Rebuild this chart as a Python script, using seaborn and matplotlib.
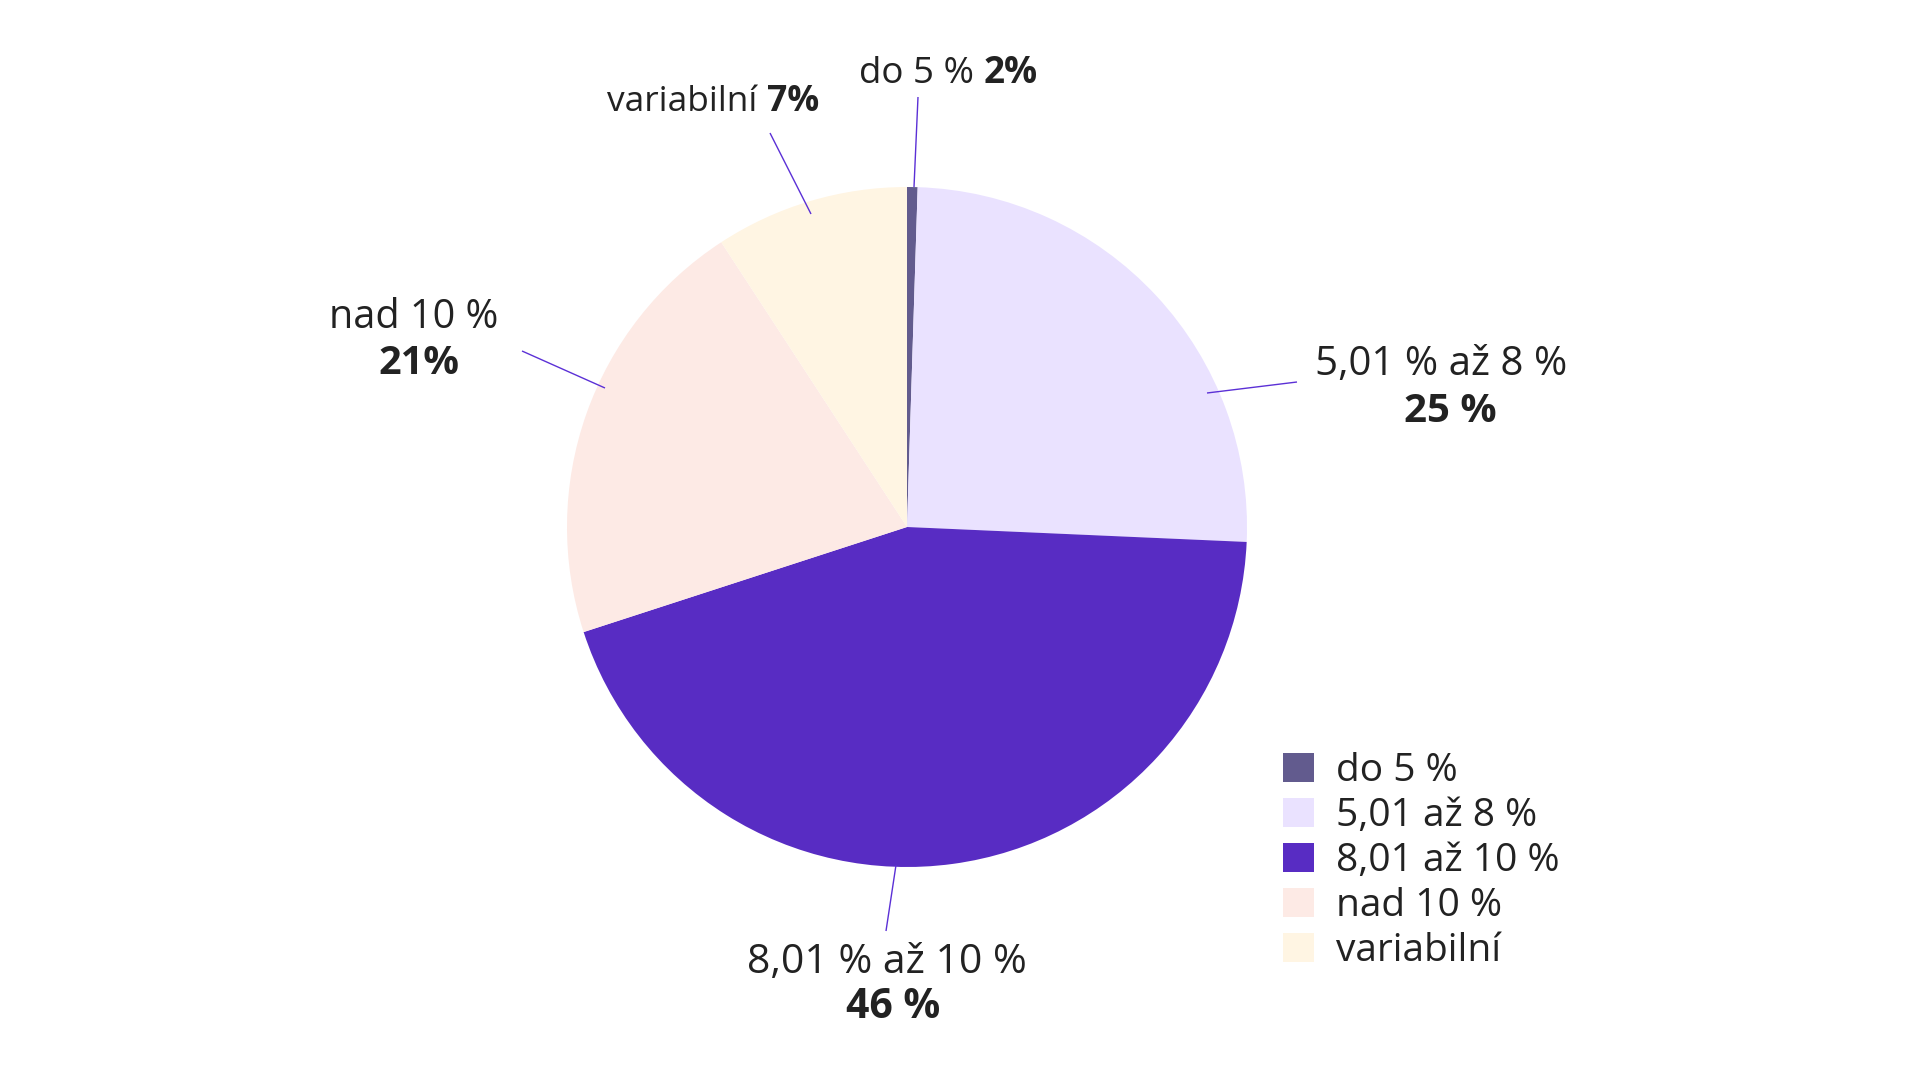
import matplotlib
matplotlib.use("Agg")
import matplotlib.pyplot as plt
import seaborn as sns

# ---- data ----
categories = ["do 5 %", "5,01 až 8 %", "8,01 až 10 %", "nad 10 %", "variabilní"]
shares = [0.5, 25.2, 44.3, 20.8, 9.2]          # drawn slice sizes
label_names = ["do 5 %", "5,01 % až 8 %", "8,01 % až 10 %", "nad 10 %", "variabilní"]
label_values = ["2%", "25 %", "46 %", "21%", "7%"]
colors = ["#625B8E", "#EAE2FF", "#582CC3", "#FDEAE5", "#FFF5E3"]

sns.set_theme(style="white")
plt.rcParams["font.family"] = ["Open Sans", "DejaVu Sans"]

W, H = 1920, 1080
TXT = "#222222"
LINE = "#5B30D6"

fig = plt.figure(figsize=(19.2, 10.8), dpi=100)
ax = fig.add_axes([0, 0, 1, 1])

wedges, _ = ax.pie(shares, colors=colors, startangle=90, counterclock=False,
                   center=(907, H - 527), radius=340,
                   wedgeprops=dict(linewidth=0))
ax.set_xlim(0, W)
ax.set_ylim(0, H)
ax.set_aspect("equal")
ax.axis("off")

# leader lines (layout, image pixel coords)
leaders = [((914, 187), (918, 97)),
           ((1207, 393), (1297, 382)),
           ((896, 865), (886, 931)),
           ((605, 388), (522, 351)),
           ((811, 214), (770, 133))]
for (x1, y1), (x2, y2) in leaders:
    ax.plot([x1, x2], [H - y1, H - y2], color=LINE, lw=1.0, solid_capstyle="butt")

fig.canvas.draw()
renderer = fig.canvas.get_renderer()

def inline_label(x_left, y_base, name, value, size):
    t = ax.text(x_left, H - y_base, name + " ", fontsize=size, color=TXT,
                ha="left", va="baseline")
    bb = t.get_window_extent(renderer=renderer)
    ax.text(bb.x1, H - y_base, value, fontsize=size, color=TXT, fontweight="bold",
            ha="left", va="baseline")

def two_line_label(xc1, xc2, y1, y2, name, value, size):
    ax.text(xc1, H - y1, name, fontsize=size, color=TXT, ha="center", va="baseline")
    ax.text(xc2, H - y2, value, fontsize=size, color=TXT, ha="center", va="baseline",
            fontweight="bold")

inline_label(859, 83, label_names[0], label_values[0], 26.5)
inline_label(607, 111, label_names[4], label_values[4], 25.5)
two_line_label(1441, 1450, 375, 422, label_names[1], label_values[1], 29)
two_line_label(887, 893, 973, 1018, label_names[2], label_values[2], 29.5)
two_line_label(414, 419, 328, 374, label_names[3], label_values[3], 28.5)

leg = ax.legend(wedges, categories, loc="upper left",
                bbox_to_anchor=(1283 / W, 1 - 752 / H), bbox_transform=fig.transFigure,
                frameon=False, fontsize=28, handlelength=0.8, handleheight=0.8,
                handletextpad=0.55, labelspacing=0.18, borderaxespad=0, borderpad=0)
for t in leg.get_texts():
    t.set_color(TXT)

fig.savefig("out.png", dpi=100, facecolor="white")
